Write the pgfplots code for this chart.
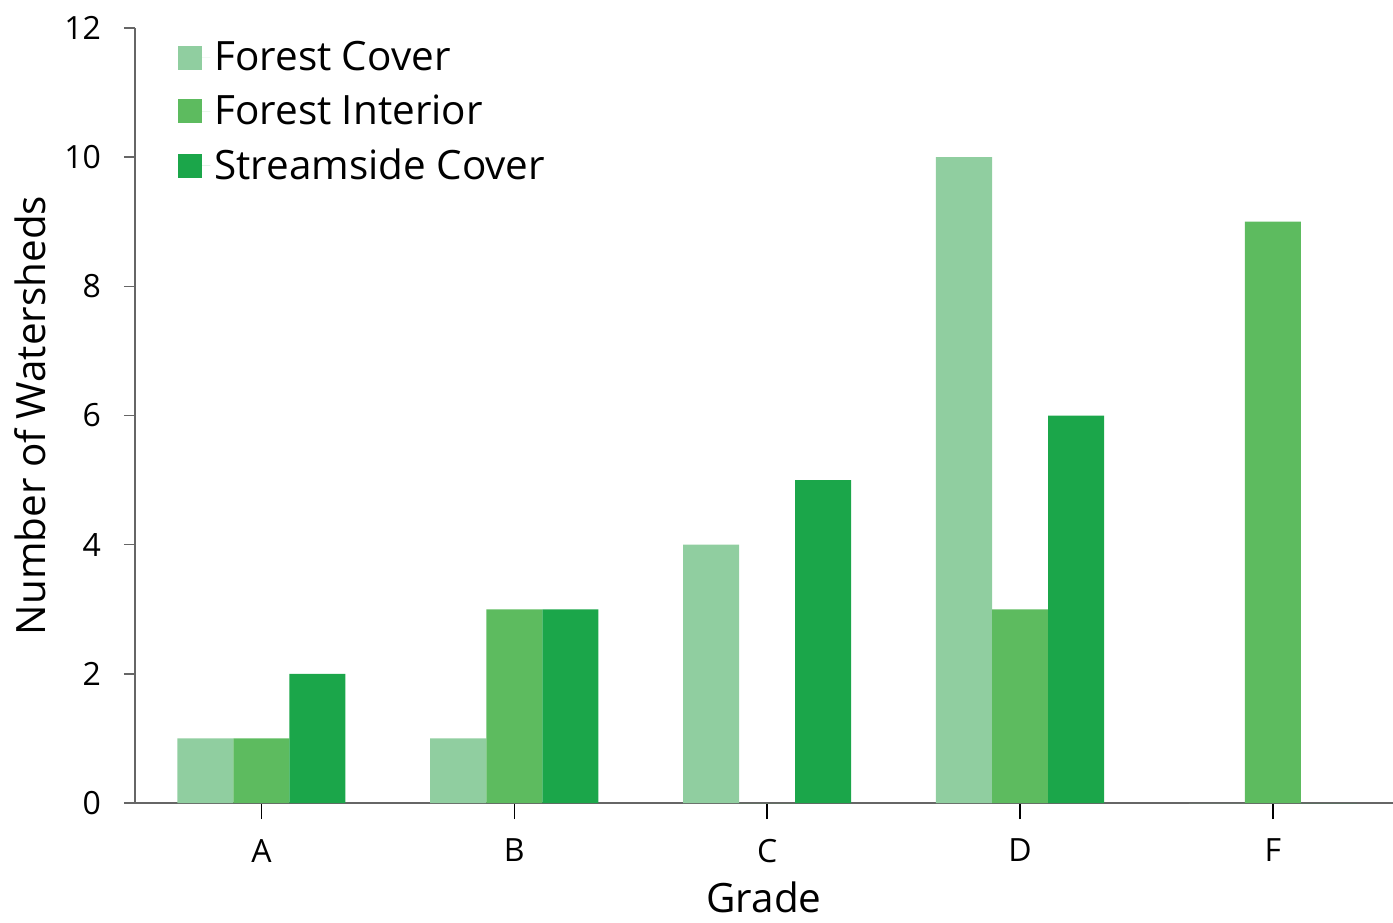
\documentclass[border=0pt]{standalone}
\usepackage{fontspec}
\setmainfont{Open Sans}
\usepackage{pgfplots}
\pgfplotsset{compat=1.18}
\definecolor{cLight}{HTML}{90CEA0}
\definecolor{cMid}{HTML}{5DBB5F}
\definecolor{cDark}{HTML}{1BA64A}
\definecolor{axgray}{HTML}{666666}
\begin{document}
\begin{tikzpicture}
\begin{axis}[
  name=ax,
  scale only axis,
  width=629pt, height=387.5pt,
  xmin=-0.5, xmax=4.475,
  ymin=0, ymax=12,
  ytick={0,2,4,6,8,10,12},
  xtick={0,1,2,3,4},
  xticklabels={A,B,C,D,F},
  axis x line=bottom, axis y line=left,
  axis line style={-, axgray, line width=1pt},
  ytick align=outside,
  xtick align=center,
  major tick length=5.5pt,
  ytick style={axgray, line width=0.8pt},
  xtick style={black, line width=0.8pt, /pgfplots/major tick length=8pt},
  tick label style={font=\fontsize{16}{19}\selectfont},
  /pgf/number format/assume math mode=true,
  yticklabel style={xshift=-8pt},
  xticklabel style={yshift=-9pt},
  ylabel={Number of Watersheds},
  xlabel={Grade},
  every axis y label/.style={at={(axis description cs:-0.0835,0.5)}, rotate=90, anchor=center, font=\fontsize{20.2}{24}\selectfont},
  every axis x label/.style={at={(axis description cs:0.5,-0.1415)}, anchor=base, inner sep=0pt, font=\fontsize{20.2}{24}\selectfont},
  ybar, bar width=0.2216,
  legend style={draw=none, fill=none, at={(axis description cs:0.0342,0.988)}, anchor=north west,
    font=\fontsize{20.2}{24}\selectfont, row sep=6.6pt, inner sep=0pt},
  legend cell align=left,
  legend image code/.code={\fill[#1] (0pt,-6pt) rectangle (12pt,6pt); \path (0pt,0pt) -- (16pt,0pt);},
]
\addplot[fill=cLight, draw=none, bar shift=-0.2216] coordinates {(0,1) (1,1) (2,4) (3,10) (4,0)};
\addplot[fill=cMid, draw=none, bar shift=0] coordinates {(0,1) (1,3) (2,0) (3,3) (4,9)};
\addplot[fill=cDark, draw=none, bar shift=0.2216] coordinates {(0,2) (1,3) (2,5) (3,6) (4,0)};
\legend{Forest Cover, Forest Interior, Streamside Cover}
\end{axis}
\pgfresetboundingbox
\path[use as bounding box] ([xshift=-67.5pt,yshift=-59.5pt]ax.south west) rectangle ([yshift=14pt]ax.north east);
\end{tikzpicture}
\end{document}
